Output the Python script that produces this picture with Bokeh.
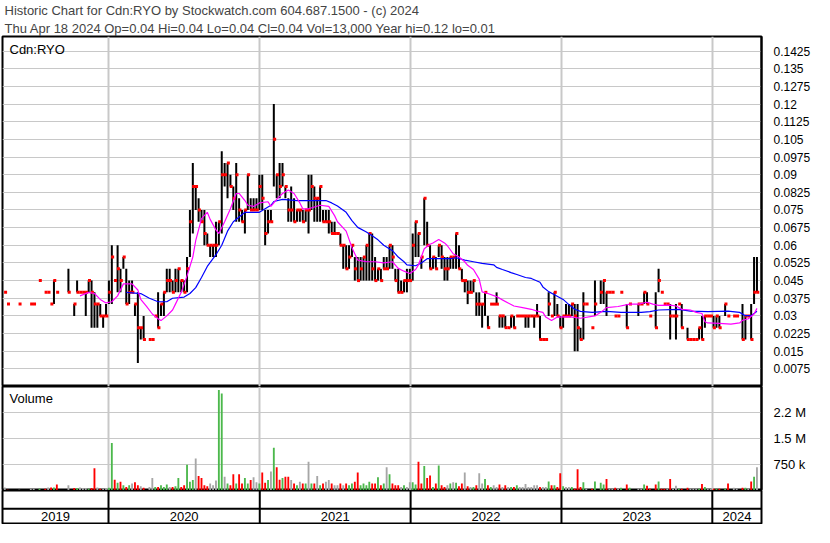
import numpy as np
import pandas as pd
from bokeh.plotting import figure
from bokeh.layouts import column
from bokeh.models import ColumnDataSource, Range1d, FixedTicker, Label, Title, Span
from bokeh.embed import file_html
from bokeh.resources import INLINE

FONT = "Liberation Sans"
HEADER_LINE1 = "Historic Chart for Cdn:RYO by Stockwatch.com 604.687.1500 - (c) 2024"
HEADER_LINE2 = "Thu Apr 18 2024  Op=0.04  Hi=0.04  Lo=0.04  Cl=0.04  Vol=13,000  Year hi=0.12  lo=0.01"
SYMBOL = "Cdn:RYO"
VOLUME_TITLE = "Volume"

FIRST_WEEK = "2019-04-25"   # weekly bars (Thursdays) through 2024-04-18
VIEW_START = "2019-04-19 12:00"
VIEW_END = "2024-04-29"
N = None

HIGH = [
    # 2019
    .04, .035, N, N, N, .035, N, N, N, .035, .035, N, .045, N, .04, .04, .035, .045, .04, N,
    N, N, .05, N, .035, .045, .04, .04, .04, .045, .045, .04, .035, .035, .03, .035,
    # 2020
    .045, .06, .045, .06, .05, .055, .05, .045, .045, .035, .04, .025, .03, N, .02, .02, .03, .04, .035, .04,
    .05, .05, .045, .05, .05, .045, .045, .055, .075, .095, .085, .08, .075, .075, .065, .06, .06, .07, .07, .1,
    .095, .095, .09, .085, .095, .08, .075, .075, .09, .08, .08, .08,
    # 2021
    .09, .09, .075, .075, .075, .12, .09, .095, .095, .085, .08, .085, .08, .075, .075, .075, .075, .09, .09, .085,
    .08, .085, .075, .075, .075, .07, .07, .065, .065, .06, .06, .06, .06, .055, .055, .055, .055, .06, .065, .065,
    .055, .05, .05, .055, .055, .06, .06, .05, .05, .045, .045, .05, .05,
    # 2022
    .065, .07, .065, .055, .08, .07, .06, .055, .055, .06, .06, .055, .055, .055, .055, .065, .06, .05, .045, .045,
    .045, .045, .04, .04, .035, .04, .03, .035, .035, .04, .03, .03, .03, .025, .03, .03, .03, .03, .03, .03,
    .03, .03, .03, .035, .03, .02, .02, .04, .03, .04, .035, .03,
    # 2023
    .03, .035, .035, .035, .035, .035, .025, .04, .035, N, .025, .045, N, .045, .045, .04, .04, .04, .03, .03,
    .04, N, .035, .035, N, N, .035, .035, .04, .04, .03, N, .04, .05, .04, .035, .035, .035, .03, .035,
    .035, .035, N, .025, .02, .02, .02, .025, .03, .03, .03, .03,
    # 2024
    .03, .03, .03, N, .035, .03, N, .03, .03, N, .035, .03, .03, .035, .055, .055,
]
LOW = [
    # 2019
    .04, .035, N, N, N, .035, N, N, N, .035, .035, N, .045, N, .04, .04, .035, .035, .04, N,
    N, N, .04, N, .03, .04, .04, .04, .03, .04, .025, .025, .025, .03, .025, .03,
    # 2020
    .035, .035, .045, .04, .04, .05, .035, .035, .04, .03, .01, .02, .02, N, .02, .02, .03, .025, .03, .03,
    .04, .04, .04, .04, .04, .04, .04, .04, .055, .065, .075, .07, .07, .06, .06, .055, .055, .055, .06, .065,
    .085, .08, .085, .075, .07, .07, .07, .065, .075, .075, .075, .075,
    # 2021
    .075, .075, .06, .065, .07, .085, .08, .08, .085, .08, .07, .07, .07, .07, .07, .07, .07, .065, .075, .07,
    .07, .07, .07, .07, .065, .065, .065, .065, .06, .05, .05, .05, .055, .045, .045, .045, .045, .045, .045, .045,
    .045, .045, .045, .05, .05, .05, .05, .045, .04, .04, .04, .04, .045,
    # 2022
    .045, .055, .055, .05, .06, .06, .05, .05, .05, .055, .05, .045, .045, .05, .05, .05, .05, .045, .04, .035,
    .04, .04, .03, .03, .025, .03, .025, .035, .035, .035, .025, .025, .025, .025, .025, .025, .03, .03, .03, .025,
    .025, .03, .025, .03, .02, .02, .02, .03, .03, .03, .03, .025,
    # 2023
    .025, .03, .03, .03, .015, .015, .02, .02, .035, N, .025, .03, N, .035, .035, .03, .04, .04, .03, .03,
    .04, N, .025, .035, N, N, .03, .035, .035, .035, .03, N, .025, .04, .04, .035, .035, .02, .03, .02,
    .035, .025, N, .02, .02, .02, .02, .02, .02, .025, .03, .03,
    # 2024
    .025, .025, .025, N, .03, .03, N, .03, .03, N, .02, .02, .03, .02, .035, .04,
]
CLOSE = [
    # 2019
    .04, .035, N, N, N, .035, N, N, N, .035, .035, N, .045, N, .04, .04, .035, .045, .04, N,
    N, N, .04, N, .035, .04, .04, .04, .04, .045, .04, .035, .035, .03, .03, .03,
    # 2020
    .04, .055, .045, .05, .045, .055, .035, .04, .04, .035, .025, .025, .02, N, .02, .02, .03, .025, .035, .04,
    .045, .045, .04, .045, .05, .045, .04, .05, .07, .085, .085, .075, .07, .065, .06, .06, .06, .06, .07, .09,
    .09, .095, .085, .08, .09, .075, .07, .075, .09, .075, .075, .075,
    # 2021
    .085, .08, .065, .07, .07, .105, .09, .085, .09, .085, .075, .075, .07, .075, .075, .07, .075, .075, .085, .08,
    .08, .085, .07, .07, .07, .065, .065, .065, .06, .06, .05, .055, .06, .05, .045, .05, .055, .06, .065, .05,
    .045, .05, .045, .05, .05, .06, .055, .045, .04, .04, .045, .045, .045,
    # 2022
    .06, .07, .065, .055, .08, .06, .05, .055, .05, .06, .055, .05, .05, .055, .055, .065, .05, .045, .045, .04,
    .04, .045, .035, .035, .035, .04, .025, .035, .035, .035, .03, .03, .025, .025, .03, .025, .03, .03, .03, .03,
    .03, .03, .03, .03, .02, .02, .02, .035, .03, .04, .03, .025,
    # 2023
    .03, .03, .03, .035, .03, .025, .02, .035, .035, N, .025, .035, N, .04, .045, .04, .04, .04, .03, .03,
    .04, N, .025, .035, N, N, .035, .035, .04, .035, .03, N, .025, .045, .04, .035, .035, .03, .03, .03,
    .035, .025, N, .02, .02, .02, .02, .025, .02, .03, .03, .03,
    # 2024
    .025, .03, .025, N, .035, .03, N, .03, .03, N, .02, .03, .03, .02, .04, .04,
]
VOLUME_M = [
    # 2019
    .09, .02, 0, 0, 0, .02, 0, 0, 0, .05, .05, 0, .05, 0, .05, .09, .09, .09, .17, 0,
    0, 0, .15, 0, .07, .07, .09, .07, .07, .05, .07, .64, .09, .05, .05, .07,
    # 2020
    .08, 1.37, .31, .22, .25, .15, .1, .15, .2, .24, .15, .12, .08, 0, .1, .36, .1, .1, .15, .1,
    .17, .1, .1, .12, .36, .1, .15, .74, .25, .3, .92, .42, .36, .15, .12, .2, .15, .29, 2.9, 2.8,
    .4, .2, .15, .47, .2, .47, .2, .36, .2, .3, .38, .24,
    # 2021
    .2, .52, .22, .3, .55, 1.23, .67, .31, .36, .4, .4, .3, .2, .15, .25, .2, .2, .83, .2, .2,
    .42, .15, .2, .25, .3, .2, .15, .15, .2, .15, .2, .15, .2, .25, .52, .15, .2, .15, .25, .2,
    .2, .38, .15, .2, .67, .47, .2, .15, .15, .1, .15, .1, .24,
    # 2022
    .24, .17, .83, .2, .71, .36, .43, .1, .2, .72, .15, .1, .15, .2, .24, .22, .12, .2, .52, .12,
    .1, .1, .15, .5, .2, .33, .15, .1, .15, .1, .17, .1, .15, .1, .1, .1, .15, .1, .1, .19,
    .1, .1, .15, .15, .1, .1, .1, .26, .15, .15, .1, .5,
    # 2023
    .12, .1, .1, .1, .05, .61, .1, .24, .05, 0, .05, .26, 0, .22, .17, .33, .05, .05, .08, .05,
    .08, 0, .17, .08, 0, 0, .05, .05, .17, .14, .05, 0, .17, .26, .05, .05, .05, .33, .05, .14,
    .05, .05, 0, .08, .05, .05, .05, .05, .19, .1, .05, .05,
    # 2024
    .05, .05, .05, 0, .05, .2, 0, .08, .05, 0, .08, .08, .05, .26, .4, .67,
]

MA_FAST_WEEK = [26, 29, 31, 33, 35, 37, 39, 41, 44, 46, 47, 49, 51, 53, 54, 56, 58, 59, 61, 63,
                65, 66, 68, 70, 71, 73, 74, 76, 78, 80, 81, 83, 84, 86, 88, 91, 92, 94, 96, 98,
                100, 102, 103, 105, 109, 112, 114, 115, 118, 120, 122, 125, 128, 131, 134, 136, 138, 140, 142, 143,
                145, 147, 148, 150, 152, 153, 155, 157, 159, 160, 162, 164, 165, 167, 170, 172, 174, 176, 179, 182,
                184, 186, 187, 189, 191, 195, 199, 204, 206, 208, 212, 216, 219, 222, 224, 226, 230, 232, 234, 237,
                239, 241, 242, 243, 247, 251, 254, 255, 257, 259, 260]
MA_FAST = [.0385, .040, .0395, .037, .0355, .036, .0385, .0436, .0436, .041, .037, .034, .0308, .0288, .028, .030, .0325, .035, .040, .047,
           .055, .062, .0713, .074, .071, .0665, .065, .070, .0755, .082, .082, .079, .077, .0765, .078, .0785, .0765, .0795, .082, .0835,
           .082, .078, .0755, .0755, .077, .0765, .0726, .070, .066, .059, .0537, .053, .053, .0525, .053, .0502, .049, .048, .0497, .0517,
           .0585, .0604, .061, .0625, .061, .0598, .0564, .055, .053, .0515, .0497, .0456, .0402, .0395, .0382, .0368, .0355, .0342, .0335, .0328,
           .032, .0315, .0295, .028, .0295, .0297, .029, .030, .0315, .0335, .034, .035, .035, .0358, .035, .0345, .0346, .0342, .0328, .0325,
           .0315, .031, .0275, .027, .0268, .0265, .027, .0281, .0288, .0308, .0332]
MA_SLOW_WEEK = [42, 47, 50, 53, 56, 58, 62, 64, 66, 68, 70, 73, 75, 77, 79, 83, 85, 88, 92, 93,
                96, 101, 107, 111, 113, 115, 118, 120, 122, 125, 127, 129, 131, 134, 136, 138, 139, 142, 144, 146,
                148, 154, 156, 159, 162, 165, 169, 170, 172, 175, 177, 180, 182, 185, 186, 188, 190, 193, 195, 197,
                199, 203, 208, 213, 220, 223, 226, 233, 237, 243, 250, 254, 256, 258, 260]
MA_SLOW = [.040, .0395, .0375, .036, .036, .0375, .038, .0395, .042, .0463, .051, .056, .060, .066, .070, .074, .074, .074, .077, .0786,
           .0795, .079, .079, .079, .078, .0767, .074, .0705, .0676, .0656, .064, .0623, .060, .0577, .055, .053, .0517, .0513, .0525, .0543,
           .0543, .0543, .0547, .0537, .053, .0523, .0517, .0506, .0497, .0484, .0476, .0463, .0459, .0443, .0423, .0403, .039, .037, .0348, .0328,
           .0319, .0315, .0319, .0315, .0315, .0318, .0325, .0328, .032, .0318, .032, .0315, .0301, .0301, .032]

PRICE_TICKS = [0.0075, 0.015, 0.0225, 0.03, 0.0375, 0.045, 0.0525, 0.06, 0.0675, 0.075, 0.0825,
               0.09, 0.0975, 0.105, 0.1125, 0.12, 0.1275, 0.135, 0.1425]
PRICE_TICK_LABELS = ["0.0075", "0.015", "0.0225", "0.03", "0.0375", "0.045", "0.0525", "0.06", "0.0675",
                     "0.075", "0.0825", "0.09", "0.0975", "0.105", "0.1125", "0.12", "0.1275", "0.135", "0.1425"]
PRICE_MAX = 0.1487
VOL_TICKS = [0.75, 1.5, 2.25]
VOL_TICK_LABELS = ["750 k", "1.5 M", "2.2 M"]
VOL_MAX = 3.0
YEARS = [2019, 2020, 2021, 2022, 2023, 2024]

# ---------------------------------------------------------------- data prep
dates = pd.date_range(FIRST_WEEK, periods=len(CLOSE), freq="7D")
df = pd.DataFrame({"date": dates,
                   "high": pd.to_numeric(pd.Series(HIGH, dtype="object"), errors="coerce"),
                   "low": pd.to_numeric(pd.Series(LOW, dtype="object"), errors="coerce"),
                   "close": pd.to_numeric(pd.Series(CLOSE, dtype="object"), errors="coerce"),
                   "vol": VOLUME_M})
prev_close = df["close"].ffill().shift(1)
df["vcolor"] = np.where(df["close"] > prev_close, "#4cb84c",
                        np.where(df["close"] < prev_close, "#ff0000", "#a6a6a6"))
df["mark_x"] = df["date"] + pd.Timedelta(days=2)
traded = df.dropna(subset=["close"])
with_vol = df[df["vol"] > 0]

fast = pd.DataFrame({"date": dates[MA_FAST_WEEK], "v": MA_FAST})
slow = pd.DataFrame({"date": dates[MA_SLOW_WEEK], "v": MA_SLOW})

x_start = pd.Timestamp(VIEW_START)
x_end = pd.Timestamp(VIEW_END)
x_range = Range1d(x_start, x_end)
year_starts = [pd.Timestamp(f"{y}-01-01") for y in YEARS[1:]]
year_ms = [t.value // 10**6 for t in year_starts]

W = 814
BL, BR = 2, 53
GRID = "#c8c8c8"


def base_fig(height, y_max, y_axis=True):
    f = figure(width=W, height=height, x_range=x_range, y_range=Range1d(0, y_max),
               x_axis_type="datetime", y_axis_location="right" if y_axis else None,
               output_backend="svg", toolbar_location=None,
               min_border_left=BL, min_border_right=BR, min_border_top=0, min_border_bottom=0)
    f.xaxis.visible = False
    f.outline_line_color = "black"
    f.outline_line_width = 2
    f.outline_line_alpha = 1
    f.background_fill_color = "white"
    f.border_fill_color = "white"
    f.xgrid.ticker = FixedTicker(ticks=year_ms)
    f.xgrid.grid_line_color = GRID
    f.xgrid.grid_line_width = 2
    f.ygrid.grid_line_color = GRID
    f.ygrid.grid_line_width = 1
    if y_axis:
        ax = f.yaxis[0]
        ax.axis_line_color = "black"
        ax.axis_line_width = 2
        ax.major_tick_line_color = None
        ax.minor_tick_line_color = None
        ax.major_label_text_font = FONT
        ax.major_label_text_color = "black"
        ax.major_label_standoff = 6
    return f


# ---------------------------------------------------------------- price panel
p = base_fig(386, PRICE_MAX)
# the figure's own title is drawn outermost, the added one sits just above the frame
p.title.text = HEADER_LINE1
p.title.text_font = FONT
p.title.text_font_size = "13px"
p.title.text_font_style = "normal"
p.title.standoff = 1
p.title.offset = 2
p.add_layout(Title(text=HEADER_LINE2, text_font=FONT, text_font_size="13px",
                   text_font_style="normal", standoff=1, offset=2), "above")
p.yaxis.ticker = FixedTicker(ticks=PRICE_TICKS)
p.yaxis.major_label_overrides = dict(zip(PRICE_TICKS, PRICE_TICK_LABELS))
p.yaxis.major_label_text_font_size = "12px"

src = ColumnDataSource(traded)
p.segment(x0="date", y0="low", x1="date", y1="high", source=src, line_color="black", line_width=2)
p.scatter(x="mark_x", y="close", source=src, marker="square", size=3, color="#ff0000", line_width=0)
p.line(x="date", y="v", source=ColumnDataSource(slow), line_color="#0000ff", line_width=1.2)
p.line(x="date", y="v", source=ColumnDataSource(fast), line_color="#ff00ff", line_width=1.2)
p.add_layout(Label(x=x_start.value // 10**6, y=PRICE_MAX, x_offset=7, y_offset=-5, text=SYMBOL,
                   text_font=FONT, text_font_size="13px", text_baseline="top", text_color="black"))

# ---------------------------------------------------------------- volume panel
v = base_fig(104, VOL_MAX)
v.yaxis.ticker = FixedTicker(ticks=VOL_TICKS)
v.yaxis.major_label_overrides = dict(zip(VOL_TICKS, VOL_TICK_LABELS))
v.yaxis.major_label_text_font_size = "13px"
v.vbar(x="date", top="vol", width=pd.Timedelta(days=4.5).total_seconds() * 1000,
       source=ColumnDataSource(with_vol), fill_color="vcolor", line_color=None)
v.add_layout(Label(x=x_start.value // 10**6, y=VOL_MAX, x_offset=7, y_offset=-4, text=VOLUME_TITLE,
                   text_font=FONT, text_font_size="13px", text_baseline="top", text_color="black"))

# ---------------------------------------------------------------- year strip
yr = base_fig(34, 2.0, y_axis=False)
yr.grid.visible = False
yr.segment(x0=year_starts, x1=year_starts, y0=[0] * len(year_starts), y1=[2] * len(year_starts),
           line_color="black", line_width=2)
yr.add_layout(Span(location=0.93, dimension="width", line_color="black", line_width=2))
mids, labels = [], []
for y in YEARS:
    a = max(pd.Timestamp(f"{y}-01-01"), x_start)
    b = min(pd.Timestamp(f"{y + 1}-01-01"), x_end)
    mids.append(a + (b - a) / 2)
    labels.append(str(y))
yr.text(x=mids, y=[0.45] * len(mids), text=labels, text_font=dict(value=FONT), text_font_size="13px",
        text_align="center", text_baseline="middle", text_color="black")

layout = column(p, v, yr, spacing=0)
open("out.html", "w").write(file_html(layout, INLINE))
